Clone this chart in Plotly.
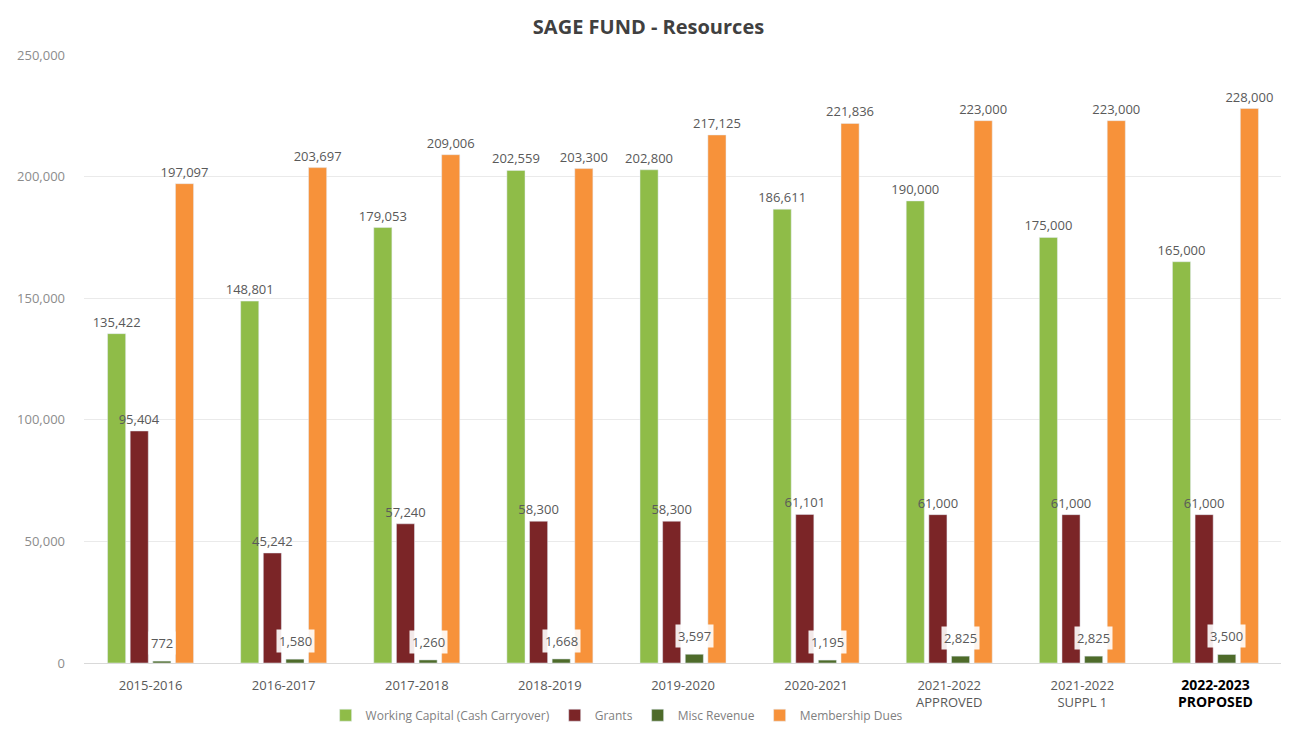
import plotly.graph_objects as go

categories = ["2015-2016", "2016-2017", "2017-2018", "2018-2019", "2019-2020",
              "2020-2021", "2021-2022 APPROVED", "2021-2022 SUPPL 1", "2022-2023 PROPOSED"]
tick_labels = ["2015-2016", "2016-2017", "2017-2018", "2018-2019", "2019-2020",
               "2020-2021", "2021-2022<br>APPROVED", "2021-2022<br>SUPPL 1",
               "<span style='color:#000000;font-size:14px'><b>2022-2023<br>PROPOSED</b></span>"]
working_capital = [135422, 148801, 179053, 202559, 202800, 186611, 190000, 175000, 165000]
grants = [95404, 45242, 57240, 58300, 58300, 61101, 61000, 61000, 61000]
misc_revenue = [772, 1580, 1260, 1668, 3597, 1195, 2825, 2825, 3500]
membership_dues = [197097, 203697, 209006, 203300, 217125, 221836, 223000, 223000, 228000]

series = [
    ("Working Capital (Cash Carryover)", working_capital, "#8FBC48"),
    ("Grants", grants, "#7B2527"),
    ("Misc Revenue", misc_revenue, "#4E6B2A"),
    ("Membership Dues", membership_dues, "#F7923A"),
]

FONT = "Open Sans, sans-serif"
label_font = dict(family=FONT, size=13, color="#595959")

fig = go.Figure()
for name, vals, color in series:
    is_misc = name == "Misc Revenue"
    fig.add_trace(go.Bar(
        name=name, x=categories, y=vals, marker_color=color,
        text=None if is_misc else [f"{v:,}" for v in vals],
        textposition="outside", cliponaxis=False, constraintext="none",
        textfont=label_font,
    ))

# Misc revenue labels in white boxes, anchored to the misc bar (3rd of 4 in group)
for cat, v in zip(categories, misc_revenue):
    fig.add_annotation(
        x=cat, y=v, xref="x", yref="y", text=f"{v:,}", showarrow=False,
        xshift=11.5, yshift=6, yanchor="bottom",
        bgcolor="rgba(255,255,255,0.9)", borderpad=2,
        font=label_font,
    )

fig.update_layout(
    width=1281, height=729,
    paper_bgcolor="white", plot_bgcolor="white",
    margin=dict(l=76, r=7, t=47, b=72),
    barmode="group", bargap=0.32, bargroupgap=0.2,
    title=dict(text="<b>SAGE FUND - Resources</b>", x=0.5, xref="container", xanchor="center",
               y=0.974, yref="container", yanchor="middle",
               font=dict(family=FONT, size=20, color="#404040")),
    legend=dict(orientation="h", x=0.445, xanchor="center", y=-0.062, yanchor="top",
                font=dict(family=FONT, size=12, color="#7F7F7F"),
                itemwidth=30, tracegroupgap=0),
    font=dict(family=FONT),
)
fig.update_xaxes(
    tickvals=categories, ticktext=tick_labels, automargin=False,
    tickfont=dict(family=FONT, size=13, color="#595959"),
    showline=True, linecolor="#D9D9D9", linewidth=1, ticks="",
    ticklabelstandoff=10,
)
fig.update_yaxes(
    range=[0, 250000], dtick=50000, tickformat=",", automargin=False,
    showgrid=True, gridcolor="#EAEAEA", gridwidth=1, zeroline=False,
    tickfont=dict(family=FONT, size=13, color="#8C8C8C"),
    ticklabelstandoff=18,
)

fig.write_html("out.html")
